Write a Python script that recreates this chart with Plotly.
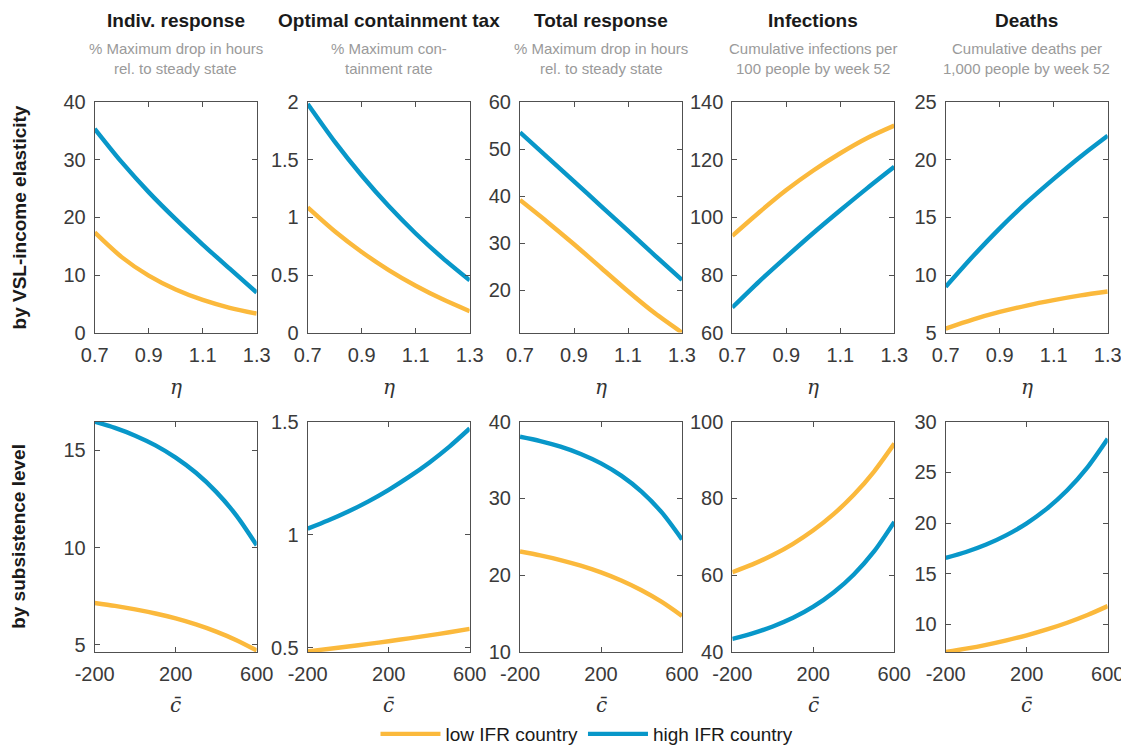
import plotly.graph_objects as go

# ---- data ----
eta = [0.7, 0.8, 0.9, 1.0, 1.1, 1.2, 1.3]
cbar = [-200, -100, 0, 100, 200, 300, 400, 500, 600]

# row 1: by VSL-income elasticity
indiv_eta_low = [17.4, 13.11, 9.89, 7.48, 5.67, 4.31, 3.29]
indiv_eta_high = [35.4, 29.6, 24.4, 19.7, 15.3, 11.1, 6.96]
tax_eta_low = [1.087, 0.88, 0.70, 0.543, 0.407, 0.289, 0.186]
tax_eta_high = [1.985, 1.658, 1.364, 1.099, 0.861, 0.647, 0.454]
total_eta_low = [39.2, 34.6, 29.8, 24.8, 19.8, 15.1, 11.0]
total_eta_high = [53.6, 48.4, 43.2, 37.9, 32.7, 27.4, 22.2]
inf_eta_low = [93.6, 101.8, 109.5, 116.3, 122.3, 127.6, 131.9]
inf_eta_high = [68.7, 77.8, 86.3, 94.6, 102.5, 110.2, 117.6]
death_eta_low = [5.35, 6.13, 6.79, 7.35, 7.82, 8.23, 8.57]
death_eta_high = [8.97, 11.6, 14.05, 16.3, 18.35, 20.3, 22.1]

# row 2: by subsistence level
indiv_c_low = [7.15, 7.0, 6.82, 6.61, 6.36, 6.05, 5.68, 5.24, 4.71]
indiv_c_high = [16.48, 16.16, 15.76, 15.26, 14.63, 13.85, 12.87, 11.65, 10.12]
tax_c_low = [0.485, 0.4954, 0.5063, 0.5177, 0.5297, 0.5423, 0.5555, 0.5694, 0.584]
tax_c_high = [1.027, 1.063, 1.103, 1.148, 1.199, 1.256, 1.319, 1.390, 1.470]
total_c_low = [23.1, 22.59, 21.98, 21.25, 20.37, 19.31, 18.04, 16.52, 14.7]
total_c_high = [38.04, 37.48, 36.75, 35.80, 34.57, 32.97, 30.89, 28.18, 24.66]
inf_c_low = [60.8, 62.83, 65.27, 68.19, 71.7, 75.91, 80.96, 87.02, 94.29]
inf_c_high = [43.4, 44.85, 46.65, 48.9, 51.8, 55.5, 60.2, 66.2, 73.9]
death_c_low = [7.27, 7.6, 7.98, 8.42, 8.92, 9.5, 10.16, 10.92, 11.8]
death_c_high = [16.55, 17.14, 17.88, 18.81, 19.97, 21.42, 23.23, 25.49, 28.31]

titles = ["Indiv. response", "Optimal containment tax", "Total response",
          "Infections", "Deaths"]
subtitles = [("% Maximum drop in hours", "rel. to steady state"),
             ("% Maximum con-", "tainment rate"),
             ("% Maximum drop in hours", "rel. to steady state"),
             ("Cumulative infections per", "100 people by week 52"),
             ("Cumulative deaths per", "1,000 people by week 52")]
row_labels = ["by VSL-income elasticity", "by subsistence level"]
series_names = ["low IFR country", "high IFR country"]

eta_ticks = [0.7, 0.9, 1.1, 1.3]
c_ticks = [-200, 200, 600]
c_ticktext = ["-200", "200", "600"]

y_ranges = [[0, 40], [0, 2], [11, 60], [60, 140], [5, 25],
            [4.63, 16.48], [0.482, 1.5], [10, 40], [40, 100], [7.27, 30]]
y_ticks = [[0, 10, 20, 30, 40], [0, 0.5, 1, 1.5, 2], [20, 30, 40, 50, 60],
           [60, 80, 100, 120, 140], [5, 10, 15, 20, 25],
           [5, 10, 15], [0.5, 1, 1.5], [10, 20, 30, 40],
           [40, 60, 80, 100], [10, 15, 20, 25, 30]]

rows = [
    [(indiv_eta_low, indiv_eta_high), (tax_eta_low, tax_eta_high),
     (total_eta_low, total_eta_high), (inf_eta_low, inf_eta_high),
     (death_eta_low, death_eta_high)],
    [(indiv_c_low, indiv_c_high), (tax_c_low, tax_c_high),
     (total_c_low, total_c_high), (inf_c_low, inf_c_high),
     (death_c_low, death_c_high)],
]

YELLOW = "#FBB93C"
BLUE = "#0897C9"
AXIS = "#505050"
TICKTXT = "#3a3a3a"
FONT = "Liberation Sans, Arial"

# page body keeps its 8px margin: shift everything by it; the figure is a bit
# taller than the window so the legend box never pushes the bottom margin
OFF = 8
W, H = 1121, 770


def px(x):
    return (x - OFF) / W


def py(y):
    return 1 - (y - OFF) / H


col_left = [94.7, 307.7, 520.0, 732.3, 945.7]
col_w = 162.0
row_top = [102.3, 421.7]
row_h = 230.3

fig = go.Figure()
layout = {}
for r in range(2):
    xs = eta if r == 0 else cbar
    for c in range(5):
        k = r * 5 + c + 1
        sfx = "" if k == 1 else str(k)
        low, high = rows[r][c]
        for vals, col, name in ((low, YELLOW, series_names[0]),
                                (high, BLUE, series_names[1])):
            fig.add_trace(go.Scatter(
                x=xs, y=vals, mode="lines", name=name,
                line=dict(color=col, width=4.4, shape="spline", smoothing=0.8),
                xaxis="x" + sfx, yaxis="y" + sfx,
                showlegend=(k == 1), legendgroup=name, hoverinfo="skip"))
        common = dict(showline=True, mirror="ticks", linecolor=AXIS, linewidth=1,
                      ticks="inside", ticklen=5, tickcolor=AXIS, showgrid=False,
                      zeroline=False, automargin=False, ticklabeloverflow="allow",
                      tickfont=dict(family=FONT, size=20, color=TICKTXT))
        if r == 0:
            xax = dict(range=[0.7, 1.3], tickvals=eta_ticks,
                       ticktext=[str(t) for t in eta_ticks])
        else:
            xax = dict(range=[-200, 600], tickvals=c_ticks, ticktext=c_ticktext)
        xax.update(common, domain=[px(col_left[c]), px(col_left[c] + col_w)],
                   anchor="y" + sfx, ticklabelstandoff=4)
        yax = dict(range=y_ranges[k - 1], tickvals=y_ticks[k - 1],
                   ticktext=[("%g" % t) for t in y_ticks[k - 1]])
        yax.update(common, domain=[py(row_top[r] + row_h), py(row_top[r])],
                   anchor="x" + sfx, ticklabelstandoff=4)
        layout["xaxis" + sfx] = xax
        layout["yaxis" + sfx] = yax

annotations = []
for c in range(5):
    xc = px(col_left[c] + col_w / 2)
    annotations.append(dict(text="<b>%s</b>" % titles[c], x=xc, y=py(21),
                            xref="paper", yref="paper", showarrow=False,
                            xanchor="center", yanchor="middle",
                            font=dict(family=FONT, size=19, color="#1a1a1a")))
    for i, line in enumerate(subtitles[c]):
        annotations.append(dict(text=line, x=xc, y=py(49 + 20 * i),
                                xref="paper", yref="paper", showarrow=False,
                                xanchor="center", yanchor="middle",
                                font=dict(family=FONT, size=15, color="#9a9a9a")))
    annotations.append(dict(text="<i>η</i>", x=xc, y=py(387),
                            xref="paper", yref="paper", showarrow=False,
                            xanchor="center", yanchor="middle",
                            font=dict(family="DejaVu Serif", size=20, color="#333333")))
    annotations.append(dict(text="<i>c\u0304</i>", x=xc, y=py(705),
                            xref="paper", yref="paper", showarrow=False,
                            xanchor="center", yanchor="middle",
                            font=dict(family="DejaVu Serif", size=20, color="#333333")))

for r in range(2):
    yc = py(row_top[r] + row_h / 2)
    annotations.append(dict(text="<b>%s</b>" % row_labels[r], x=px(19), y=yc,
                            xref="paper", yref="paper", showarrow=False,
                            textangle=-90, xanchor="center", yanchor="middle",
                            font=dict(family=FONT, size=19, color="#1a1a1a")))

fig.update_layout(
    template="none",
    width=W, height=H,
    margin=dict(l=0, r=0, t=0, b=0, pad=0),
    paper_bgcolor="white", plot_bgcolor="white",
    annotations=annotations,
    legend=dict(orientation="h", x=px(587), xanchor="center", y=py(734),
                yanchor="middle", font=dict(family=FONT, size=19, color="#1a1a1a"),
                itemwidth=60, bgcolor="rgba(0,0,0,0)"),
    **layout,
)

fig.write_html("out.html")
